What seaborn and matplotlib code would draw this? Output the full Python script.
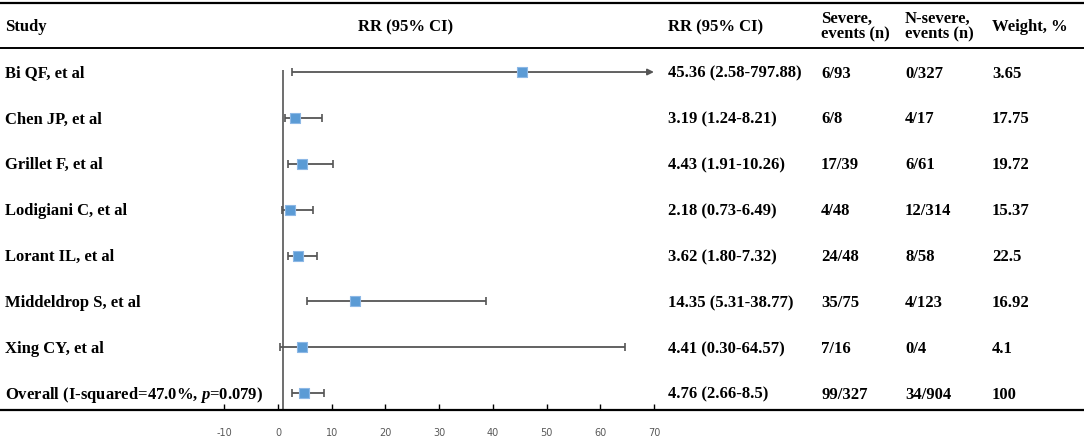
import matplotlib
matplotlib.use("Agg")
import matplotlib.pyplot as plt
import seaborn as sns
import pandas as pd

# forest plot data
studies = ["Bi QF, et al", "Chen JP, et al", "Grillet F, et al", "Lodigiani C, et al",
           "Lorant IL, et al", "Middeldrop S, et al", "Xing CY, et al",
           "Overall (I-squared=47.0%, $p$=0.079)"]
rr = [45.36, 3.19, 4.43, 2.18, 3.62, 14.35, 4.41, 4.76]
ci_low = [2.58, 1.24, 1.91, 0.73, 1.80, 5.31, 0.30, 2.66]
ci_high = [797.88, 8.21, 10.26, 6.49, 7.32, 38.77, 64.57, 8.5]
rr_labels = ["45.36 (2.58-797.88)", "3.19 (1.24-8.21)", "4.43 (1.91-10.26)", "2.18 (0.73-6.49)",
             "3.62 (1.80-7.32)", "14.35 (5.31-38.77)", "4.41 (0.30-64.57)", "4.76 (2.66-8.5)"]
severe = ["6/93", "6/8", "17/39", "4/48", "24/48", "35/75", "7/16", "99/327"]
non_severe = ["0/327", "4/17", "6/61", "12/314", "8/58", "4/123", "0/4", "34/904"]
weight = ["3.65", "17.75", "19.72", "15.37", "22.5", "16.92", "4.1", "100"]
x_ticks = [-10, 0, 10, 20, 30, 40, 50, 60, 70]

df = pd.DataFrame({"study": studies, "rr": rr, "lo": ci_low, "hi": ci_high})
df["row"] = range(len(df))

sns.set_style("white")
plt.rcParams["font.family"] = ["Liberation Serif", "DejaVu Serif"]
plt.rcParams["text.color"] = "black"
# bold italic "p" in the overall label
plt.rcParams["mathtext.fontset"] = "custom"
plt.rcParams["mathtext.it"] = "Liberation Serif:italic:bold"
plt.rcParams["mathtext.rm"] = "Liberation Serif:bold"

W, H = 1084, 437
fig = plt.figure(figsize=(W / 100, H / 100), dpi=100)
ax = fig.add_axes([0, 27 / H, 1, 410 / H])

clip = x_ticks[-1]
ax.set_xlim(-51.8, 150.1)
ax.set_ylim(7.364, -1.569)

bar_col = "#555555"
ok = df[df.hi <= clip]
ax.errorbar(ok.rr, ok.row, xerr=[ok.rr - ok.lo, ok.hi - ok.rr], fmt="none",
            ecolor=bar_col, elinewidth=1.3, capsize=3, capthick=1.2, zorder=2)
cut = df[df.hi > clip]
ax.errorbar(cut.rr, cut.row, xerr=[cut.rr - cut.lo, cut.rr * 0], fmt="none",
            ecolor=bar_col, elinewidth=1.3, capsize=3, capthick=1.2, zorder=2)
for _, r in cut.iterrows():
    ax.annotate("", xy=(clip, r.row), xytext=(r.rr, r.row),
                arrowprops=dict(arrowstyle="-|>", color=bar_col, lw=1.3,
                                mutation_scale=9, shrinkA=0, shrinkB=0), zorder=2)

sns.scatterplot(data=df, x="rr", y="row", marker="s", s=58, color="#5B9BD5",
                edgecolor="#8DB8E6", linewidth=0.8, ax=ax, zorder=3, legend=False)

# line of no effect
ax.vlines(1, -0.044, 7.364, color="#6e6e6e", lw=1.4, zorder=1)

# table lines
ax.axhline(-1.50, color="black", lw=1.6)
ax.axhline(-0.52, color="black", lw=1.4)

tr = ax.get_yaxis_transform()
fs = 12
hy = -0.98
hdr = dict(transform=tr, fontsize=fs, fontweight="bold", va="center", color="black")
ax.text(5 / W, hy, "Study", ha="left", **hdr)
ax.text(406 / W, hy, "RR (95% CI)", ha="center", **hdr)
ax.text(668 / W, hy, "RR (95% CI)", ha="left", **hdr)
ax.text(821 / W, hy, "Severe,\nevents (n)", ha="left", linespacing=0.95, **hdr)
ax.text(905 / W, hy, "N-severe,\nevents (n)", ha="left", linespacing=0.95, **hdr)
ax.text(992 / W, hy, "Weight, %", ha="left", **hdr)

# baseline sits a bit below the row centre so the caps line up with the markers
dy = 0.12
txt = dict(transform=tr, fontsize=fs, fontweight="bold", va="baseline", color="black")
for i in range(len(df)):
    y = i + dy
    ax.text(5 / W, y, studies[i], ha="left", **txt)
    ax.text(668 / W, y, rr_labels[i], ha="left", **txt)
    ax.text(821 / W, y, severe[i], ha="left", **txt)
    ax.text(905 / W, y, non_severe[i], ha="left", **txt)
    ax.text(992 / W, y, weight[i], ha="left", **txt)

ax.set_xticks(x_ticks)
ax.set_xticklabels([str(v) for v in x_ticks], fontfamily="DejaVu Sans")
ax.tick_params(axis="x", direction="in", length=4, width=1, color="black",
               pad=13, labelsize=7, labelcolor="#595959", bottom=True)
ax.set_yticks([])
ax.set_xlabel("")
ax.set_ylabel("")
for s in ["top", "left", "right"]:
    ax.spines[s].set_visible(False)
ax.spines["bottom"].set_linewidth(1.6)
ax.spines["bottom"].set_color("black")

fig.savefig("out.png", dpi=100)
